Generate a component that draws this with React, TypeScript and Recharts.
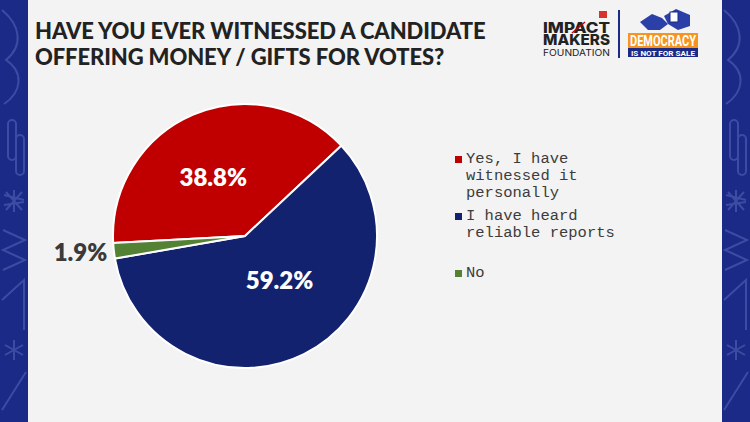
import React from 'react'
import { PieChart, Pie, Cell, Legend } from 'recharts'

const answers = ['Yes, I have witnessed it personally', 'I have heard reliable reports', 'No']
const shares = [38.8, 59.2, 1.9]
const colours = ['#c00000', '#13226f', '#548235']

const data = answers.map((name, i) => ({ name, value: shares[i] }))

const RADIAN = Math.PI / 180

// label placement per slice: radius factor + angle shift (deg), last one sits outside
const labelPos = [
  { r: 0.51, shift: 5, inside: true },
  { r: 0.42, shift: 12, inside: true },
  { r: 1.05, shift: 0, inside: false },
]

const renderLabel = (p: any) => {
  const { cx, cy, midAngle, outerRadius, index, value } = p
  const pos = labelPos[index]
  const a = -(midAngle + pos.shift) * RADIAN
  const r = outerRadius * pos.r
  const x = cx + r * Math.cos(a)
  const y = cy + r * Math.sin(a)
  return (
    <text
      x={x}
      y={y}
      fill={pos.inside ? '#ffffff' : '#3a3a3a'}
      textAnchor={pos.inside ? 'middle' : 'end'}
      dominantBaseline="central"
      fontFamily="Lato, 'Noto Sans', sans-serif"
      fontWeight={800}
      fontSize={24}
    >
      {`${value}%`}
    </text>
  )
}

const LegendBox = (props: any) => {
  // keep the data order, not recharts' value sort
  const items = [...(props.payload || [])].sort(
    (a: any, b: any) => answers.indexOf(a.value) - answers.indexOf(b.value)
  )
  return (
    <div style={{ fontFamily: "'Liberation Mono', 'DejaVu Sans Mono', monospace", fontSize: 15.5, color: '#3c3c3c', lineHeight: '17px' }}>
      {items.map((e: any, i: number) => (
        <div key={i} style={{ height: 57, display: 'flex', alignItems: 'flex-start' }}>
          <span style={{ width: 7, height: 7, background: e.color, marginTop: 5, marginRight: 4, flexShrink: 0 }} />
          <span style={{ width: 170 }}>{e.value}</span>
        </div>
      ))}
    </div>
  )
}

function Strip({ x }: { x: number }) {
  return (
    <svg width={28} height={422} style={{ position: 'absolute', left: x, top: 0 }}>
      <rect width={28} height={422} fill="#1b2a86" />
      <g stroke="#4a5bb0" strokeWidth={2} fill="none" opacity={0.7}>
        <path d="M2 10 C 20 25, 24 45, 6 60 C 24 72, 22 92, 4 104" />
        <rect x={8} y={120} width={8} height={40} rx={4} />
        <rect x={16} y={135} width={8} height={40} rx={4} />
        <path d="M4 195 L 24 200 M4 205 L 24 202 M 14 190 L 14 212 M6 192 L 22 210 M22 192 L6 210" />
        <path d="M3 230 L 25 240 L 3 250 L 25 260 L 3 270" />
        <path d="M2 300 L 24 280 L 24 330" />
        <path d="M14 340 L 14 360 M 5 345 L 23 355 M 23 345 L 5 355" />
        <path d="M2 410 L 26 372" />
      </g>
    </svg>
  )
}

function Logo() {
  const sans = 'Inter, Roboto, sans-serif'
  return (
    <svg width={750} height={70} style={{ position: 'absolute', left: 0, top: 0 }}>
      <rect x={599} y={11} width={8} height={7} fill="#d8322e" />
      <text x={543} y={33} fontFamily={sans} fontWeight={800} fontSize={15} fill="#222" textLength={67} lengthAdjust="spacingAndGlyphs">IMPACT</text>
      <line x1={572} y1={33} x2={585} y2={22} stroke="#c00000" strokeWidth={1.5} />
      <text x={543} y={45} fontFamily={sans} fontWeight={800} fontSize={15} fill="#222" textLength={67} lengthAdjust="spacingAndGlyphs">MAKERS</text>
      <text x={543} y={56} fontFamily={sans} fontWeight={400} fontSize={9} fill="#222" textLength={67} lengthAdjust="spacingAndGlyphs">FOUNDATION</text>
      <rect x={618} y={10} width={2} height={48} fill="#1b2a86" />
      <polygon points="640,22 652,14 662,18 668,24 660,30 648,30" fill="#2b3fa8" />
      <polygon points="664,16 676,9 690,15 690,26 678,30 668,24" fill="#2b3fa8" />
      <rect x={670} y={12} width={8} height={10} fill="#fff" stroke="#1b2a86" />
      <rect x={628} y={33} width={70} height={15} fill="#f7941d" />
      <text x={630} y={46} fontFamily="Roboto, sans-serif" fontWeight={700} fontSize={14} fill="#fff" textLength={66} lengthAdjust="spacingAndGlyphs">DEMOCRACY</text>
      <rect x={628} y={48} width={70} height={9} fill="#1b2a86" />
      <text x={631} y={55.5} fontFamily="Roboto, sans-serif" fontWeight={700} fontSize={7} fill="#fff" textLength={64} lengthAdjust="spacingAndGlyphs">IS NOT FOR SALE</text>
    </svg>
  )
}

export default function App() {
  return (
    <div style={{ position: 'absolute', left: 0, top: 0, width: 750, height: 422, background: '#f3f3f3', overflow: 'hidden' }}>
      <Strip x={0} />
      <Strip x={722} />
      <div
        style={{
          position: 'absolute',
          left: 35,
          top: 18,
          fontFamily: 'Lato, sans-serif',
          fontWeight: 900,
          fontSize: 22,
          lineHeight: '26px',
          color: '#222222',
          letterSpacing: -0.1,
          whiteSpace: 'nowrap',
        }}
      >
        HAVE YOU EVER WITNESSED A CANDIDATE
        <br />
        OFFERING MONEY / GIFTS FOR VOTES?
      </div>
      <Logo />
      <div style={{ position: 'absolute', left: 0, top: 0 }}>
        <PieChart width={750} height={422} margin={{ top: 0, right: 0, bottom: 0, left: 0 }}>
          <Pie
            data={data}
            dataKey="value"
            nameKey="name"
            cx={245}
            cy={236}
            outerRadius={132}
            startAngle={183}
            endAngle={-177}
            stroke="#ffffff"
            strokeWidth={2}
            label={renderLabel}
            labelLine={false}
            isAnimationActive={false}
          >
            {data.map((_, i) => (
              <Cell key={i} fill={colours[i]} />
            ))}
          </Pie>
          <Legend
            layout="vertical"
            align="right"
            verticalAlign="top"
            content={<LegendBox />}
            wrapperStyle={{ top: 151, left: 455, right: 'auto', width: 200 }}
          />
        </PieChart>
      </div>
    </div>
  )
}
